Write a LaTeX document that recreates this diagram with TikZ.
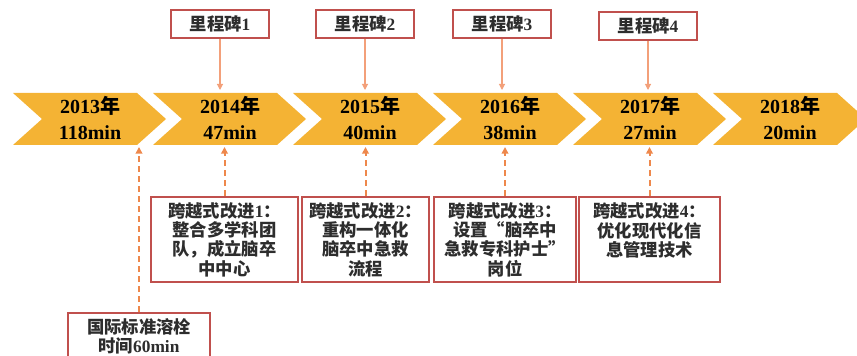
\documentclass[tikz,border=0pt]{standalone}
\usepackage{fontspec}
\setmainfont{Liberation Serif}
\newfontfamily\cjk{Noto Sans CJK SC}
\usetikzlibrary{arrows.meta}
\newcommand\zh[1]{{\cjk #1}}
\definecolor{chevgold}{RGB}{244,179,52}
\definecolor{boxred}{RGB}{192,80,77}
\definecolor{msline}{RGB}{243,160,122}
\definecolor{dashorange}{RGB}{238,136,76}
\definecolor{txtgray}{RGB}{45,45,45}
\tikzset{
  chev/.style={fill=chevgold},
  chevtext/.style={font=\fontsize{15}{17}\selectfont\bfseries, inner sep=0pt},
  msbox/.style={draw=boxred, line width=1.2pt, fill=white, minimum width=73.5pt, minimum height=21pt,
    inner sep=0pt, font=\fontsize{13}{15}\selectfont\bfseries, text=txtgray},
  stepbox/.style={draw=boxred, line width=1.2pt, fill=white, minimum height=63.75pt, inner sep=2pt,
    align=center, font=\fontsize{13}{14.5}\selectfont\bfseries, text=txtgray},
  msarrow/.style={draw=msline, line width=0.8pt, -{Triangle[length=4.5pt,width=4.5pt]}},
  dasharrow/.style={draw=dashorange, line width=1.5pt, dash pattern=on 4.5pt off 3pt,
    -{Triangle[length=5pt,width=5pt]}}
}
\begin{document}
\begin{tikzpicture}[x=0.75pt,y=0.75pt,yscale=-1,xscale=1]
        \useasboundingbox (0,0) rectangle (857,356);
        
        %Shape: Chevrons with year and time
        \foreach \i/\yy/\mn in {0/2013/118,1/2014/47,2/2015/40,3/2016/38,4/2017/27,5/2018/20}{
          \fill[chev] (13+140*\i,93) -- ++(124,0) -- ++(29,26) -- ++(-29,26) -- ++(-124,0) -- ++(29,-26) -- cycle ;
          \node[chevtext] (yr\i) at (90+140*\i,106) {\yy\zh{年}};
          \node[chevtext] (mn\i) at (90+140*\i,133) {\mn min};
        }
        \coordinate (chevtop) at (0,90);
        \coordinate (chevbot) at (0,147);
        
        % Milestones
        \node[msbox] (ms1) at (220,24) {\zh{里程碑}1};
        \node[msbox] (ms2) at (365,24) {\zh{里程碑}2};
        \node[msbox] (ms3) at (502,24) {\zh{里程碑}3};
        \node[msbox] (ms4) at (648,26) {\zh{里程碑}4};
        %Straight Lines
        \draw[msarrow] (ms1.south) -- (ms1.south |- chevtop) ;
        \draw[msarrow] (ms2.south) -- (ms2.south |- chevtop) ;
        \draw[msarrow] (ms3.south) -- (ms3.south |- chevtop) ;
        \draw[msarrow] (ms4.south) -- (ms4.south |- chevtop) ;
        
        % Improvements
        \node[stepbox, minimum width=110.25pt] (imp1) at (224.5,239.5)
          {\zh{跨越式改进}1\zh{：}\\ \zh{整合多学科团}\\ \zh{队，成立脑卒}\\ \zh{中中心}};
        \node[stepbox, minimum width=95.25pt] (imp2) at (365.5,239.5)
          {\zh{跨越式改进}2\zh{：}\\ \zh{重构一体化}\\ \zh{脑卒中急救}\\ \zh{流程}};
        \node[stepbox, minimum width=106.5pt] (imp3) at (505,239.5)
          {\zh{跨越式改进}3\zh{：}\\ \zh{设置“脑卒中}\\ \zh{急救专科护士”}\\ \zh{岗位}};
        \node[stepbox, minimum width=105.75pt] (imp4) at (649.5,239.5)
          {\zh{跨越式改进}4\zh{：}\\ \zh{优化现代化信}\\ \zh{息管理技术}\\ \mbox{}};
        % Baseline
        \node[stepbox, minimum width=106.5pt, minimum height=0pt, inner sep=4pt, anchor=north] (base) at (139,312)
          {\zh{国际标准溶栓}\\ \zh{时间}60min\\ \mbox{}};
        %Dashed Lines
        \draw[dasharrow] (base.north) -- (base.north |- chevbot) ;
        \draw[dasharrow] (imp1.north) -- (imp1.north |- chevbot) ;
        \draw[dasharrow] (imp2.north) -- (imp2.north |- chevbot) ;
        \draw[dasharrow] (imp3.north) -- (imp3.north |- chevbot) ;
        \draw[dasharrow] (imp4.north) -- (imp4.north |- chevbot) ;
        
\end{tikzpicture}
\end{document}
